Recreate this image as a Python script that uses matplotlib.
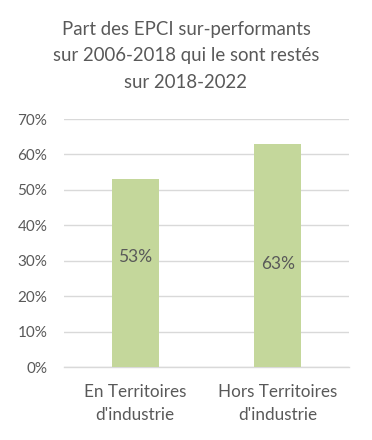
import matplotlib
matplotlib.use('Agg')
import matplotlib.pyplot as plt
from matplotlib.ticker import PercentFormatter

# ── données ──────────────────────────────────────────────
CATEGORIES = ["En Territoires\nd'industrie", "Hors Territoires\nd'industrie"]
VALUES     = [0.53, 0.63]
LABELS     = ['53%', '63%']
YTICKS     = [0.0, 0.1, 0.2, 0.3, 0.4, 0.5, 0.6, 0.7]
TITLE_TXT  = 'Part des EPCI sur-performants\nsur 2006-2018 qui le sont restés\nsur 2018-2022'

# ── style ────────────────────────────────────────────────
GREEN = '#C4D79B'
GRID  = '#D9D9D9'
TXT   = '#595959'
plt.rcParams['font.family'] = ['Lato', 'DejaVu Sans']

fig = plt.figure(figsize=(3.72, 4.40), dpi=100)
fig.patch.set_facecolor('white')
# zone de tracé: x 64..349 px, y 119..367 px
ax = fig.add_axes([64/372, 1 - 367/440, 285/372, 248/440])

x = list(range(len(CATEGORIES)))
ax.bar(x, VALUES, width=0.33, color=GREEN, zorder=3)

# étiquettes dans les barres (positions)
label_y = [0.31, 0.29]
for xi, ly, lab in zip(x, label_y, LABELS):
    ax.text(xi, ly, lab, ha='center', va='center', fontsize=12.5, color=TXT, zorder=4)

ax.set_xlim(-0.5, 1.5)
ax.set_ylim(0, 0.7)
ax.set_yticks(YTICKS)
ax.yaxis.set_major_formatter(PercentFormatter(1.0, decimals=0))
ax.set_xticks(x)
ax.set_xticklabels(CATEGORIES, fontsize=12.3, color=TXT, linespacing=1.6)
ax.tick_params(axis='y', length=0, pad=12, labelsize=11, labelcolor=TXT)
ax.tick_params(axis='x', length=0, pad=12)

ax.grid(axis='y', color=GRID, linewidth=1.0, zorder=0)
for s in ['top', 'right', 'left']:
    ax.spines[s].set_visible(False)
ax.spines['bottom'].set_color(GRID)
ax.spines['bottom'].set_linewidth(1.0)

fig.text(0.5, 1 - 56/440, TITLE_TXT, ha='center', va='center',
         fontsize=13.4, color=TXT, linespacing=1.7)

fig.savefig('out.png', dpi=100)
